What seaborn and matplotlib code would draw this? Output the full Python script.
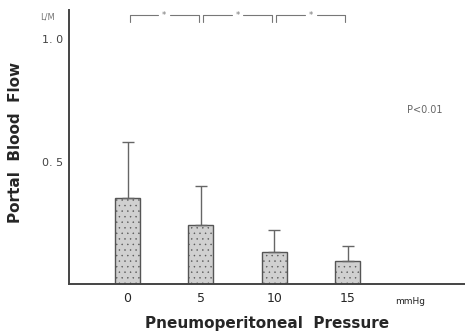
import numpy as np
import pandas as pd
import matplotlib
matplotlib.use("Agg")
import matplotlib.pyplot as plt
import seaborn as sns

# --- datos ---
pressure = ["0", "5", "10", "15"]
flow_mean = [0.35, 0.24, 0.13, 0.094]
flow_sd = [0.23, 0.16, 0.09, 0.06]
y_ticks = [0.5, 1.0]
y_tick_labels = ["0. 5", "1. 0"]
sig_pairs = [(0, 1), (1, 2), (2, 3)]

df = pd.DataFrame({"pressure": pressure, "flow": flow_mean, "sd": flow_sd})

sns.set_style("white")
plt.rcParams["font.family"] = ["DejaVu Sans"]
plt.rcParams["hatch.linewidth"] = 0.3

fig = plt.figure(figsize=(4.65, 3.34), dpi=100)
ax = fig.add_axes([0.148, 0.150, 0.852, 0.82])

sns.barplot(data=df, x="pressure", y="flow", order=pressure, errorbar=None,
            width=0.34, color="#d0d0d0", edgecolor="#555555", linewidth=1.0,
            ax=ax)
for p in ax.patches:
    p.set_hatch("...")

# solo la barra de error superior
xs = np.arange(len(pressure))
ax.errorbar(xs, df["flow"], yerr=[np.zeros(len(xs)), df["sd"]], fmt="none",
            ecolor="#666666", elinewidth=1.0, capsize=4, capthick=1.0)

ax.set_xlim(-0.8, 4.6)
ax.set_ylim(0, 1.12)
ax.set_yticks(y_ticks)
ax.set_yticklabels(y_tick_labels, fontsize=8, color="#444444")
ax.tick_params(axis="y", direction="out", length=3, width=1, color="#444444", pad=1)
ax.tick_params(axis="x", length=0, labelsize=9, pad=6)

for s in ["top", "right"]:
    ax.spines[s].set_visible(False)
for s in ["left", "bottom"]:
    ax.spines[s].set_color("#444444")
    ax.spines[s].set_linewidth(1.4)

ax.set_xlabel("Pneumoperitoneal  Pressure", fontsize=11, fontweight="bold", labelpad=8)
ax.set_ylabel("Portal  Blood  Flow", fontsize=11, fontweight="bold", labelpad=14)
ax.yaxis.set_label_coords(-0.115, 0.515)

ax.text(3.85, -0.07, "mmHg", fontsize=6.5, ha="center", va="center", color="#222222")
ax.text(-1.09, 1.09, "L/M", fontsize=6, ha="center", va="center", color="#777777",
        clip_on=False)
ax.text(4.05, 0.71, "P<0.01", fontsize=7, ha="center", va="center", color="#666666")

# corchetes de significación
y_top, y_low = 1.098, 1.07
for a, b in sig_pairs:
    mid = (a + b) / 2
    kw = dict(color="#777777", lw=0.8)
    ax.plot([a + 0.03, a + 0.03, mid - 0.08], [y_low, y_top, y_top], **kw)
    ax.plot([mid + 0.08, b - 0.03, b - 0.03], [y_top, y_top, y_low], **kw)
    ax.text(mid, y_top, "*", fontsize=6, ha="center", va="center", color="#777777")

fig.savefig("out.png", dpi=100)
